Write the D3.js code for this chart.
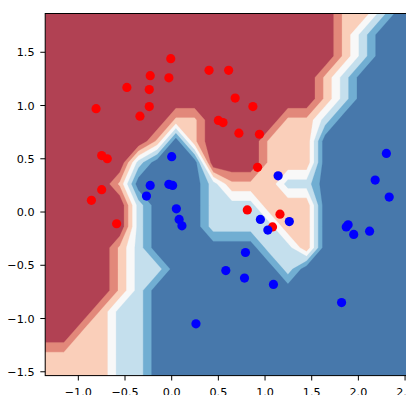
<!DOCTYPE html>
<html><head><meta charset="utf-8">
<script src="https://cdn.jsdelivr.net/npm/d3@7"></script>
<style>body{margin:0;background:#fff;} svg{display:block;} text{font-family:"DejaVu Sans",sans-serif;}</style>
</head><body><svg id="c" width="406" height="395"></svg>
<script>
// scatter points (class 0 = red, class 1 = blue)
const redX = [-0.01,-0.23,-0.03,-0.48,-0.24,-0.81,-0.24,-0.34,-0.75,-0.69,-0.75,-0.86,-0.59,0.40,0.61,0.68,0.87,0.50,0.55,0.72,0.94,0.92,0.81,1.16,1.08];
const redY = [1.44,1.28,1.26,1.17,1.15,0.97,0.99,0.90,0.53,0.50,0.21,0.11,-0.11,1.33,1.33,1.07,0.99,0.86,0.84,0.74,0.73,0.42,0.02,-0.02,-0.14];
const blueX = [0.00,-0.23,-0.03,0.01,-0.27,0.05,0.08,0.11,0.26,1.14,2.30,2.18,2.33,0.95,1.26,1.03,0.79,0.58,0.78,1.09,1.89,1.87,1.95,2.12,1.82];
const blueY = [0.52,0.25,0.26,0.25,0.15,0.03,-0.07,-0.13,-1.05,0.34,0.55,0.30,0.14,-0.07,-0.09,-0.17,-0.38,-0.55,-0.62,-0.68,-0.12,-0.14,-0.21,-0.18,-0.85];
// decision surface: votes for the blue class among 3 neighbours, per grid node (top row first)
const gridRows = [
  "00000|00000|00000|01123|3",
  "00000|00000|00000|01233|3",
  "00000|00000|00000|01233|3",
  "00000|00000|00000|12333|3",
  "00000|00000|00000|12333|3",
  "00000|00110|00011|23333|3",
  "00000|01310|00111|33333|3",
  "00000|23330|00111|33333|3",
  "00001|33332|11122|33333|3",
  "00000|23332|22111|33333|3",
  "00000|23332|22211|33333|3",
  "00001|23333|33221|33333|3",
  "00001|22333|33323|33333|3",
  "00001|23333|33333|33333|3",
  "00012|23333|33333|33333|3",
  "00112|23333|33333|33333|3",
  "11112|23333|33333|33333|3",
  "11112|23333|33333|33333|3"
];
const gridX0 = -1.355, gridY0 = -1.536, gridStep = 0.2;
const xTicks = [-1.0,-0.5,0.0,0.5,1.0,1.5,2.0,2.5];
const yTicks = [-1.5,-1.0,-0.5,0.0,0.5,1.0,1.5];
const levels = [0,0.15,0.3,0.45,0.6,0.75,0.9];
const bandColors = ["#b14153","#e2887a","#facfba","#f8f8f8","#c4dfed","#71aed2","#4778ab"];

const rows = gridRows.map(r=>r.replace(/\|/g,"")).reverse(); // bottom row first
const nx = rows[0].length, ny = rows.length;
const values = [];
rows.forEach(r=>{for(const ch of r) values.push(+ch/3);});

const svg=d3.select("#c");
const L=45.2,T=13.5,R=418.6,B=375.6;
const sx=d3.scaleLinear().domain([gridX0,gridX0+gridStep*(nx-1)]).range([L,R]);
const sy=d3.scaleLinear().domain([gridY0,gridY0+gridStep*(ny-1)]).range([B,T]);
svg.append("clipPath").attr("id","clip").append("rect").attr("x",L).attr("y",T).attr("width",R-L).attr("height",B-T);
const proj=d3.geoTransform({point(x,y){this.stream.point(sx(gridX0+(x-0.5)*gridStep),sy(gridY0+(y-0.5)*gridStep));}});
const path=d3.geoPath(proj);
const contours=d3.contours().size([nx,ny]).thresholds(levels)(values);
svg.append("g").attr("clip-path","url(#clip)").selectAll("path").data(contours).join("path")
  .attr("d",path).attr("fill",(d,i)=>bandColors[i]).attr("stroke",(d,i)=>bandColors[i]).attr("stroke-width",0.3);

const g=svg.append("g").attr("clip-path","url(#clip)");
g.selectAll("circle.r").data(redX).join("circle").attr("class","r").attr("cx",d=>sx(d)).attr("cy",(d,i)=>sy(redY[i])).attr("r",4.6).attr("fill","#ff0000");
g.selectAll("circle.b").data(blueX).join("circle").attr("class","b").attr("cx",d=>sx(d)).attr("cy",(d,i)=>sy(blueY[i])).attr("r",4.6).attr("fill","#0000ff");

svg.append("rect").attr("x",L).attr("y",T).attr("width",R-L).attr("height",B-T).attr("fill","none").attr("stroke","#000").attr("stroke-width",1);
const fs=11.2, fmt=t=>d3.format(".1f")(t).replace("-","\u2212");
xTicks.forEach(t=>{const X=sx(t);
  svg.append("line").attr("x1",X).attr("x2",X).attr("y1",B).attr("y2",B+4.9).attr("stroke","#000").attr("stroke-width",1);
  svg.append("text").attr("x",X).attr("y",396.2).attr("text-anchor","middle").attr("font-size",fs).attr("fill","#000").text(fmt(t));});
yTicks.forEach(t=>{const Y=sy(t);
  svg.append("line").attr("x1",L-4.9).attr("x2",L).attr("y1",Y).attr("y2",Y).attr("stroke","#000").attr("stroke-width",1);
  svg.append("text").attr("x",34.5).attr("y",Y+0.364*fs).attr("text-anchor","end").attr("font-size",fs).attr("fill","#000").text(fmt(t));});
</script></body></html>
